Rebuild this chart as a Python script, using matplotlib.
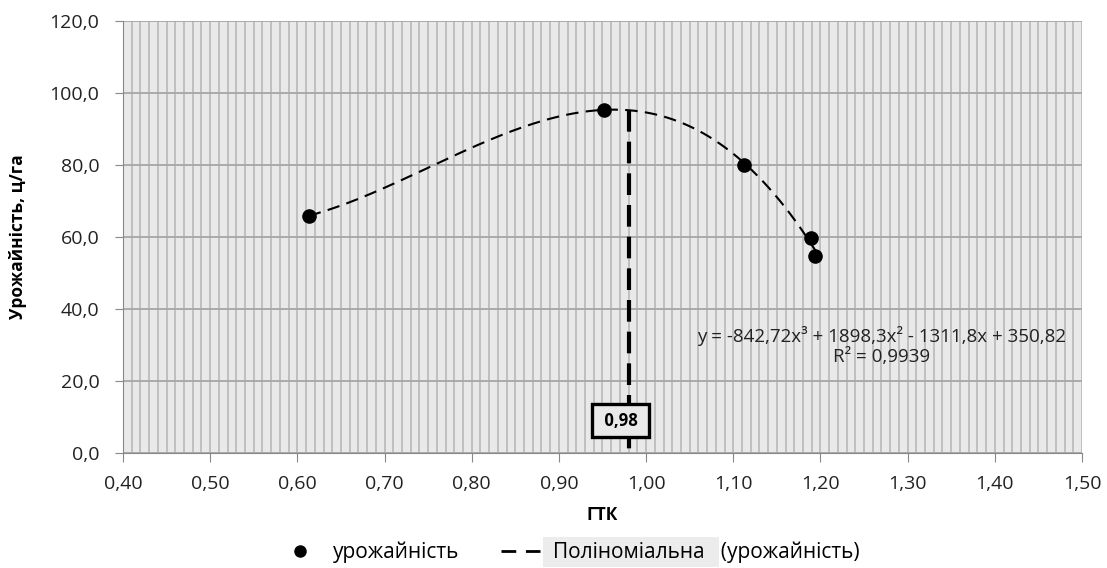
import numpy as np
import matplotlib.pyplot as plt
from matplotlib.ticker import MultipleLocator, FuncFormatter
from matplotlib.lines import Line2D
from matplotlib.patches import Rectangle

plt.rcParams['font.family'] = ['Open Sans', 'DejaVu Sans']

# data
gtk = [0.613, 0.952, 1.112, 1.189, 1.194]
yield_cwt = [65.8, 95.3, 80.0, 59.7, 54.7]
poly_coef = [-842.72, 1898.3, -1311.8, 350.82]   # trend line from the chart
opt_gtk = 0.98
eq_text = "y = -842,72x³ + 1898,3x² - 1311,8x + 350,82\nR² = 0,9939"
box_label = " 0,98 "

fig = plt.figure(figsize=(11.07, 5.68), dpi=100)
ax = fig.add_axes([0.1111, 0.2025, 0.8663, 0.7605])
ax.set_facecolor('#e9e9e9')

# trend line
xs = np.linspace(min(gtk), max(gtk), 200)
ax.plot(xs, np.polyval(poly_coef, xs), color='black', lw=1.5,
        dashes=(6, 3.5), zorder=3)
ax.scatter(gtk, yield_cwt, s=90, color='black', zorder=4)

# optimum line
ax.plot([opt_gtk, opt_gtk], [np.polyval(poly_coef, opt_gtk), 0],
        color='black', lw=3, dashes=(5.2, 2.4), zorder=3)
ax.text(opt_gtk - 0.009, 8.9, box_label, ha='center', va='center',
        fontsize=12, fontweight='bold', zorder=5,
        bbox=dict(boxstyle='square,pad=0.45', facecolor='#e9e9e9',
                  edgecolor='black', linewidth=2.4))

ax.text(1.27, 29.7, eq_text, ha='center', va='center', fontsize=13.5,
        color='#222222', linespacing=1.1, zorder=5)

ax.set_xlim(0.4, 1.5)
ax.set_ylim(0, 120)
ax.xaxis.set_major_locator(MultipleLocator(0.1))
ax.xaxis.set_minor_locator(MultipleLocator(0.01))
ax.yaxis.set_major_locator(MultipleLocator(20))
ax.xaxis.set_major_formatter(FuncFormatter(lambda v, p: f"{v:.2f}".replace('.', ',')))
ax.yaxis.set_major_formatter(FuncFormatter(lambda v, p: f"{v:.1f}".replace('.', ',')))

ax.grid(which='minor', axis='x', color='#bcbcbc', lw=1.3)
ax.grid(which='major', axis='x', color='#bcbcbc', lw=1.3)
ax.grid(which='major', axis='y', color='#a6a6a6', lw=1.3)
ax.set_axisbelow(True)
ax.tick_params(which='minor', length=0)
ax.tick_params(axis='y', which='major', direction='out', length=6, color='#888888',
               labelsize=14, labelcolor='#222222', pad=11)
ax.tick_params(axis='x', which='major', direction='out', length=6.5, color='#888888',
               labelsize=14, labelcolor='#222222', pad=9)
for s in ['top', 'right']:
    ax.spines[s].set_visible(False)
for s in ['left', 'bottom']:
    ax.spines[s].set_color('#888888')

ax.set_xlabel("ГТК", fontsize=12.5, fontweight='bold', labelpad=10)
ax.set_ylabel("Урожайність, ц/га", fontsize=12.5, fontweight='bold')
ax.yaxis.set_label_coords(-0.1, 0.5)

handles = [
    Line2D([], [], marker='o', color='black', ls='none', markersize=8),
    Line2D([], [], color='black', lw=2, dashes=(5.3, 3.5)),
]
labels = ["урожайність", "Поліноміальна   (урожайність)"]
leg = fig.legend(handles, labels, loc='center', ncol=2, frameon=False,
                 bbox_to_anchor=(0.515, 0.028), fontsize=15,
                 handlelength=1.9, columnspacing=2.0, handletextpad=0.6,
                 borderpad=0, borderaxespad=0)

# grey highlight behind the word "Поліноміальна" in the legend
fig.canvas.draw()
renderer = fig.canvas.get_renderer()
txt = leg.get_texts()[1]
bb = txt.get_window_extent(renderer)
tmp = fig.text(0, 0, "(урожайність)", fontsize=15)
wbb = tmp.get_window_extent(renderer)
tmp.remove()
W, H = fig.bbox.width, fig.bbox.height
x_end = bb.x1 - wbb.width - 2
fig.patches.append(Rectangle(((bb.x0 - 10) / W, (bb.y0 - 4) / H),
                             (x_end - bb.x0 + 10) / W, (bb.height + 8) / H,
                             transform=fig.transFigure, facecolor='#ececec',
                             edgecolor='none', zorder=-1))

fig.savefig("out.png", dpi=100)
